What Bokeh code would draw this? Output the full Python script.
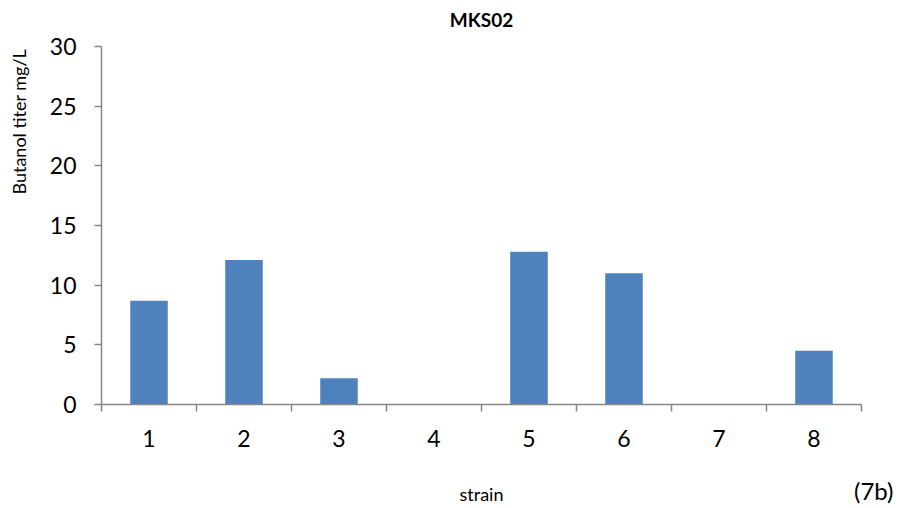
from bokeh.plotting import figure
from bokeh.models import Range1d, FixedTicker, LinearAxis
from bokeh.embed import file_html
from bokeh.resources import INLINE

strains = [1, 2, 3, 4, 5, 6, 7, 8]
titer = [8.7, 12.1, 2.2, 0, 12.8, 11.0, 0, 4.5]
y_ticks = [0, 5, 10, 15, 20, 25, 30]
boundaries = [0.5, 1.5, 2.5, 3.5, 4.5, 5.5, 6.5, 7.5, 8.5]
title_text = "MKS02"
y_label = "Butanol titer mg/L"
x_label = "strain"
panel_tag = "(7b)"

FONT = "Lato"
AXIS = "#868686"
BAR = "#4F81BD"
NBSP = "\u00a0"
TITLE_X = 4.5      # centre of the category axis
YLABEL_Y = 23.7    # where the y-axis title is centred (upper part, as in the source)


def bare_axis(ax):
    ax.axis_line_color = None
    ax.major_tick_line_color = None
    ax.minor_tick_line_color = None
    ax.major_tick_out = 0
    ax.major_tick_in = 0
    ax.minor_tick_out = 0
    ax.minor_tick_in = 0
    ax.major_label_text_font = FONT
    ax.major_label_text_color = "#000000"


p = figure(width=912, height=508, output_backend="svg", toolbar_location=None,
           x_range=Range1d(0.5, 8.5), y_range=Range1d(0, 30),
           min_border_left=101, min_border_right=51, min_border_top=46, min_border_bottom=104)
p.outline_line_color = None
p.xgrid.visible = False
p.ygrid.visible = False

p.vbar(x=strains, top=titer, width=0.395, fill_color=BAR, line_color=None)

# x axis: labels at the strains, tick marks at the category boundaries
xa = p.xaxis[0]
xa.ticker = FixedTicker(ticks=strains, minor_ticks=boundaries)
xa.major_tick_out = 0
xa.major_tick_in = 0
xa.minor_tick_out = 7
xa.minor_tick_in = 0
xa.minor_tick_line_color = AXIS
xa.minor_tick_line_width = 1.5
xa.axis_line_color = AXIS
xa.axis_line_width = 1.5
xa.major_label_text_font = FONT
xa.major_label_text_font_size = "23px"
xa.major_label_text_color = "#000000"
xa.major_label_standoff = 18

# line-less axis below: panel tag at the right end, axis title in the same row
xb = LinearAxis(ticker=FixedTicker(ticks=[boundaries[-1]], minor_ticks=[]))
bare_axis(xb)
xb.major_label_overrides = {boundaries[-1]: NBSP * 4 + panel_tag}
xb.major_label_text_font_size = "24px"
xb.major_label_standoff = 26
xb.axis_label = x_label
xb.axis_label_text_font = FONT
xb.axis_label_text_font_size = "18px"
xb.axis_label_text_font_style = "normal"
xb.axis_label_text_color = "#000000"
xb.axis_label_standoff = -25
p.add_layout(xb, "below")

ya = p.yaxis[0]
ya.ticker = FixedTicker(ticks=y_ticks, minor_ticks=[])
ya.major_tick_out = 7
ya.major_tick_in = 0
ya.minor_tick_line_color = None
ya.major_tick_line_color = AXIS
ya.major_tick_line_width = 1.5
ya.axis_line_color = AXIS
ya.axis_line_width = 1.5
ya.major_label_text_font = FONT
ya.major_label_text_font_size = "23px"
ya.major_label_text_color = "#000000"
ya.major_label_standoff = 18

# y-axis title, rotated, in the upper part of the left margin
yb = LinearAxis(ticker=FixedTicker(ticks=[YLABEL_Y], minor_ticks=[]))
bare_axis(yb)
yb.major_label_overrides = {YLABEL_Y: y_label}
yb.major_label_orientation = "vertical"
yb.major_label_text_font_size = "18px"
yb.major_label_standoff = 16
p.add_layout(yb, "left")

# chart title, centred above the plot
xt = LinearAxis(ticker=FixedTicker(ticks=[TITLE_X], minor_ticks=[]))
bare_axis(xt)
xt.major_label_overrides = {TITLE_X: title_text}
xt.major_label_text_font_size = "19px"
xt.major_label_text_font_style = "bold"
xt.major_label_standoff = 16
p.add_layout(xt, "above")

open("out.html", "w").write(file_html(p, INLINE))
